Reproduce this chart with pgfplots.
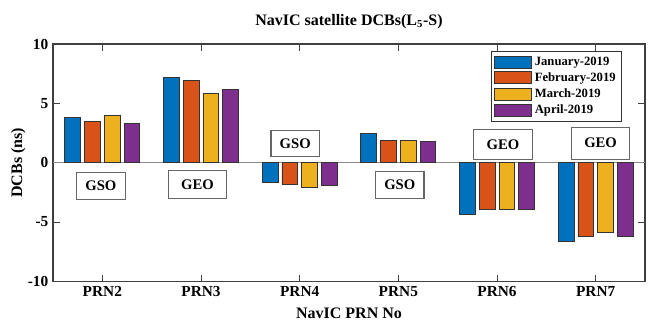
\documentclass[border=0pt]{standalone}
\usepackage{fontspec}
\setmainfont{Liberation Serif}
\usepackage{pgfplots}
\pgfplotsset{compat=1.18}
\definecolor{mblue}{rgb}{0,0.447,0.741}
\definecolor{morange}{rgb}{0.85,0.325,0.098}
\definecolor{myellow}{rgb}{0.929,0.694,0.125}
\definecolor{mpurple}{rgb}{0.494,0.184,0.556}

\begin{document}
\begin{tikzpicture}
\begin{axis}[
    scale only axis,
    width=444pt, height=178pt,
    xmin=-0.5, xmax=5.5, ymin=-10, ymax=10,
    xtick={0,1,2,3,4,5},
    xticklabels={PRN2,PRN3,PRN4,PRN5,PRN6,PRN7},
    ytick={-10,-5,0,5,10},
    tick align=inside, tick pos=both,
    major tick length=5pt,
    axis line style={black!75, line width=0.8pt},
    tick style={black!75, line width=0.7pt},
    /pgf/number format/assume math mode=true,
    ticklabel style={font=\fontsize{11.5}{13}\selectfont\bfseries},
    title={\textbf{NavIC satellite DCBs(L$_{\mathbf{5}}$-S)}},
    title style={font=\fontsize{12}{14}\selectfont, at={(axis description cs:0.5,1)}, anchor=center, yshift=11pt},
    xlabel={\textbf{NavIC PRN No}},
    ylabel={\textbf{DCBs (ns)}},
    label style={font=\fontsize{12}{14}\selectfont},
    xlabel style={at={(axis description cs:0.5,0)}, anchor=center, yshift=-24pt},
    ylabel style={at={(axis description cs:0,0.5)}, anchor=center, yshift=26pt},
    bar width=0.16,
    legend style={at={(0.74,0.97)}, anchor=north west, draw=black!80,
        font=\fontsize{9.5}{10}\selectfont\bfseries, row sep=0pt, inner sep=2pt,
        legend cell align=left},
    legend image code/.code={\draw[#1, draw=black!80] (0pt,-4.5pt) rectangle (28pt,4.5pt);},
]
\draw[black!45, line width=0.8pt] (axis cs:-0.5,0) -- (axis cs:5.5,0);
\addplot[ybar, bar shift=-0.3, fill=mblue, draw=black!80, line width=0.6pt]
    coordinates {(0,3.8) (1,7.15) (2,-1.67) (3,2.45) (4,-4.4) (5,-6.6)};
\addplot[ybar, bar shift=-0.1, fill=morange, draw=black!80, line width=0.6pt]
    coordinates {(0,3.5) (1,6.9) (2,-1.85) (3,1.9) (4,-3.95) (5,-6.2)};
\addplot[ybar, bar shift=0.1, fill=myellow, draw=black!80, line width=0.6pt]
    coordinates {(0,4.0) (1,5.85) (2,-2.05) (3,1.85) (4,-3.95) (5,-5.9)};
\addplot[ybar, bar shift=0.3, fill=mpurple, draw=black!80, line width=0.6pt]
    coordinates {(0,3.3) (1,6.15) (2,-1.94) (3,1.78) (4,-3.95) (5,-6.2)};
\legend{January-2019, February-2019, March-2019, April-2019}
\tikzset{lbl/.style={draw=black!60, line width=0.8pt, fill=white, inner sep=0pt,
    font=\fontsize{11}{12}\selectfont\bfseries}}
\node[lbl, minimum width=36.3pt, minimum height=20.3pt] at (axis cs:-0.015,-1.96) {GSO};
\node[lbl, minimum width=43.7pt, minimum height=20.5pt] at (axis cs:0.965,-1.84) {GEO};
\node[lbl, minimum width=36.3pt, minimum height=19.1pt] at (axis cs:1.955,1.62) {GSO};
\node[lbl, minimum width=36.3pt, minimum height=20pt] at (axis cs:3.015,-1.88) {GSO};
\node[lbl, minimum width=44.4pt, minimum height=22.7pt] at (axis cs:4.06,1.52) {GEO};
\node[lbl, minimum width=43.7pt, minimum height=24pt] at (axis cs:5.05,1.65) {GEO};
\end{axis}
\path (current axis.south west) ++(-39.75pt,-38.25pt) coordinate (bbsw);
\path (current axis.north east) ++(16.5pt,33pt) coordinate (bbne);
\useasboundingbox (bbsw) rectangle (bbne);
\end{tikzpicture}
\end{document}
